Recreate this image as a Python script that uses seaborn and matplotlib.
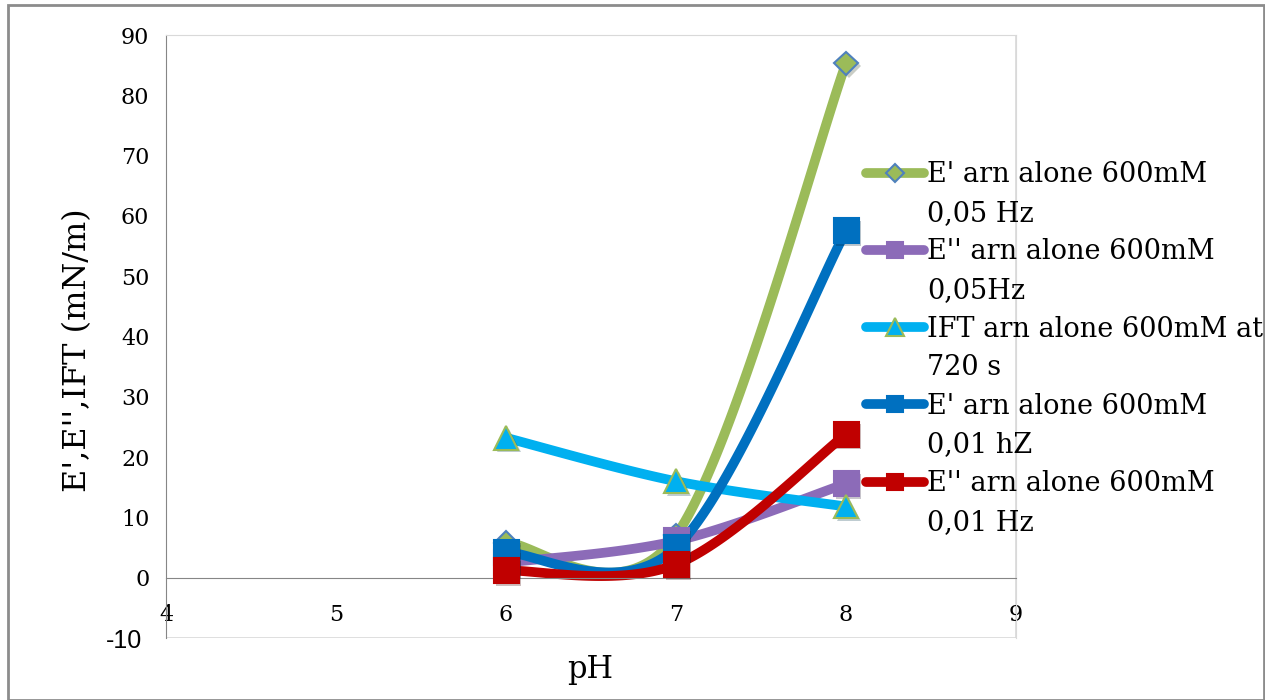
import textwrap
import numpy as np
import pandas as pd
import seaborn as sns
import matplotlib.pyplot as plt
import matplotlib.patheffects as pe
from matplotlib.lines import Line2D
from matplotlib.patches import Rectangle

ph = [6, 7, 8]
e1_005 = [5.8, 7.0, 85.3]     # E' 0,05 Hz
e2_005 = [2.5, 6.1, 15.6]     # E'' 0,05Hz
ift_720 = [23.2, 16.0, 11.8]  # IFT at 720 s
e1_001 = [4.2, 5.0, 57.5]     # E' 0,01 hZ
e2_001 = [1.2, 2.2, 23.8]     # E'' 0,01 Hz

series_names = [
    "E' arn alone 600mM 0,05 Hz",
    "E'' arn alone 600mM 0,05Hz",
    "IFT arn alone 600mM at 720 s",
    "E' arn alone 600mM 0,01 hZ",
    "E'' arn alone 600mM 0,01 Hz",
]
series_values = [e1_005, e2_005, ift_720, e1_001, e2_001]

x_ticks = [4, 5, 6, 7, 8, 9]
y_ticks = [-10, 0, 10, 20, 30, 40, 50, 60, 70, 80, 90]

# line colour, marker, marker face, marker edge, marker size (plot, legend)
styles = [
    ("#9BBB59", "D", "#9BBB59", "#4F81BD", 12, 9),
    ("#8C6BB8", "s", "#8C6BB8", "#8C6BB8", 18, 12),
    ("#00B0F0", "^", "#00B0F0", "#9BBB59", 17, 13),
    ("#0070C0", "s", "#0070C0", "#0070C0", 18, 12),
    ("#C00000", "s", "#C00000", "#C00000", 18, 12),
]


def smooth(xs, ys, n=60):
    # Excel-like smoothed line (Catmull-Rom Bezier)
    p = np.column_stack([xs, ys]).astype(float)
    p = np.vstack([p[0], p, p[-1]])
    out = []
    t = np.linspace(0, 1, n)[:, None]
    for i in range(1, len(p) - 2):
        b0 = p[i]
        b1 = p[i] + (p[i + 1] - p[i - 1]) / 6
        b2 = p[i + 1] - (p[i + 2] - p[i]) / 6
        b3 = p[i + 1]
        seg = ((1 - t) ** 3) * b0 + 3 * ((1 - t) ** 2) * t * b1 + 3 * (1 - t) * t ** 2 * b2 + t ** 3 * b3
        out.append(seg)
    return np.vstack(out)


sns.set_style("white")
plt.rcParams["font.family"] = ["DejaVu Serif"]
plt.rcParams["axes.unicode_minus"] = False
plt.rcParams["text.color"] = "black"
plt.rcParams["xtick.labelcolor"] = "black"
plt.rcParams["ytick.labelcolor"] = "black"
plt.rcParams["axes.labelcolor"] = "black"

fig = plt.figure(figsize=(12.65, 7.0), dpi=100)
ax = fig.add_axes([166 / 1265, 1 - 638 / 700, 850 / 1265, 603 / 700])

shadow = [pe.SimplePatchShadow(offset=(2, -2), alpha=0.25), pe.Normal()]
handles = []
for name, vals, (col, mk, mfc, mec, ms, lms) in zip(series_names, series_values, styles):
    curve = smooth(ph, vals)
    sns.lineplot(x=curve[:, 0], y=curve[:, 1], color=col, lw=7, sort=False,
                 estimator=None, ax=ax, solid_capstyle="round")
    ax.plot(ph, vals, ls="none", marker=mk, ms=ms, mfc=mfc, mec=mec, mew=1.5,
            path_effects=shadow, zorder=3)
    # wrapped label: first line carries the handle, the rest get a blank one
    lines = textwrap.wrap(name, 22)
    handles.append(Line2D([], [], color=col, lw=7, solid_capstyle="round",
                          marker=mk, ms=lms, mfc=mfc, mec=mec, mew=1.5,
                          label=lines[0]))
    for extra in lines[1:]:
        handles.append(Line2D([], [], color="none", label=extra))

ax.set_xlim(4, 9)
ax.set_ylim(-10, 90)
ax.set_xticks(x_ticks)
ax.set_xticklabels([str(v) for v in x_ticks])
ax.set_yticks(y_ticks)
ax.set_yticklabels([str(v) for v in y_ticks])

ax.spines["bottom"].set_position(("data", 0))
ax.spines["bottom"].set_color("#868686")
ax.spines["left"].set_color("#868686")
for s in ["top", "right"]:
    ax.spines[s].set_color("#d9d9d9")
ax.add_patch(Rectangle((0, 0), 1, 1, transform=ax.transAxes, fill=False,
                       ec="#d9d9d9", lw=1.2, zorder=0))
ax.tick_params(axis="x", direction="out", length=6, width=1, color="#868686",
               labelsize=16, pad=13)
ax.tick_params(axis="y", direction="out", length=6, width=1, color="#868686",
               labelsize=16, pad=6)

# the -10 label is drawn in a sans font, a bit further from the axis
neg_tick = ax.yaxis.get_major_ticks()[0]
neg_tick.set_pad(11)
neg_tick.label1.set_fontfamily(["Liberation Sans"])
neg_tick.label1.set_fontsize(18)

ax.set_xlabel("pH", fontsize=22)
ax.xaxis.set_label_coords(0.499, -0.026)
ax.set_ylabel("E',E'',IFT (mN/m)", fontsize=23)
ax.yaxis.set_label_coords(-0.086, 0.478)

fig.legend(handles=handles, loc="upper left",
           bbox_to_anchor=(866 / 1265, 1 - 161 / 700), frameon=False,
           fontsize=19.5, handlelength=2.15, handletextpad=0.12, labelspacing=0.43,
           borderaxespad=0, borderpad=0)

fig.add_artist(Rectangle((8 / 1265, 0), 1 - 8 / 1265 - 0.001, 1 - 5 / 700,
                         transform=fig.transFigure, fill=False, ec="#8c8c8c", lw=2))

fig.savefig("out.png", dpi=100)
